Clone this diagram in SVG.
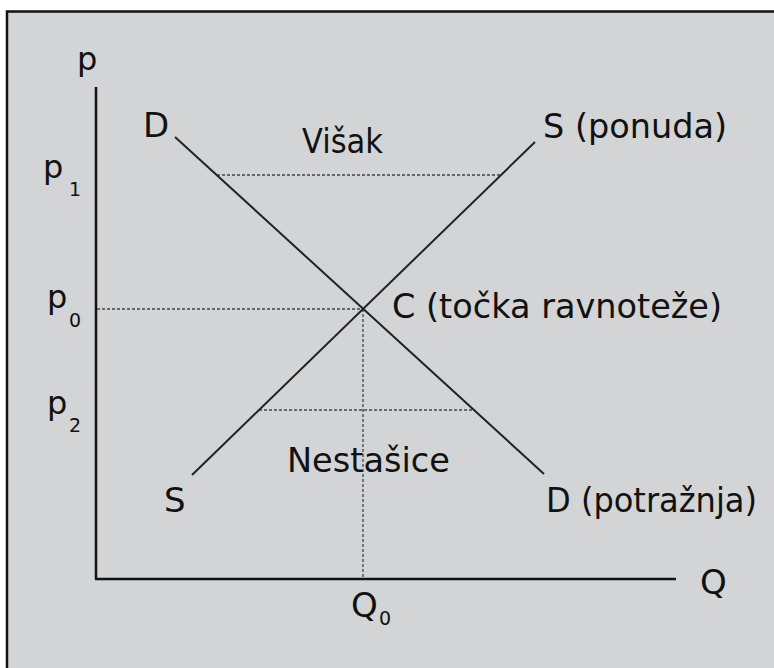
<svg xmlns="http://www.w3.org/2000/svg" width="774" height="668" viewBox="0 0 774 668">
  <style>
    .t { font-family: "DejaVu Sans", "Liberation Sans", sans-serif; fill: #111; font-size: 34px; }
    .p { font-size: 32px; }
    .sub { font-size: 19px; }
    .axis { stroke: #111; stroke-width: 2.5; fill: none; }
    .curve { stroke: #222; stroke-width: 2; fill: none; }
    .dot { stroke: #444; stroke-width: 1.3; stroke-dasharray: 3 2; fill: none; }
  </style>
  <rect x="0" y="0" width="774" height="668" fill="#ffffff"/>
  <rect id="frame" x="7" y="11.5" width="780" height="680" fill="#d3d4d6" stroke="#111" stroke-width="2.5"/>

  <g id="axes">
    <line class="axis" x1="96" y1="87" x2="96" y2="579"/>
    <line class="axis" x1="95" y1="579" x2="676" y2="579"/>
  </g>

  <g id="guides">
    <line class="dot" x1="217" y1="175" x2="501" y2="175"/>
    <line class="dot" x1="97" y1="309" x2="363" y2="309"/>
    <line class="dot" x1="363" y1="309" x2="363" y2="578"/>
    <line class="dot" x1="259" y1="410" x2="473" y2="410"/>
  </g>

  <g id="curves">
    <line id="demand" class="curve" x1="175" y1="137" x2="544" y2="474"/>
    <line id="supply" class="curve" x1="192" y1="475" x2="535" y2="142"/>
  </g>

  <g id="labels">
    <text class="t p" x="77" y="70">p</text>
    <text class="t" x="143" y="137">D</text>
    <text class="t" x="302" y="153" textLength="81" lengthAdjust="spacingAndGlyphs">Višak</text>
    <text class="t" x="543" y="138" textLength="184" lengthAdjust="spacingAndGlyphs">S (ponuda)</text>
    <text class="t p" x="43" y="178">p</text>
    <text class="t sub" x="69" y="196">1</text>
    <text class="t p" x="47" y="308">p</text>
    <text class="t sub" x="69" y="327">0</text>
    <text class="t p" x="47" y="414">p</text>
    <text class="t sub" x="69" y="432">2</text>
    <text class="t" x="392" y="318" textLength="330" lengthAdjust="spacingAndGlyphs">C (točka ravnoteže)</text>
    <text class="t" x="164" y="512">S</text>
    <text class="t" x="287" y="472" textLength="163" lengthAdjust="spacingAndGlyphs">Nestašice</text>
    <text class="t" x="546" y="512" textLength="211" lengthAdjust="spacingAndGlyphs">D (potražnja)</text>
    <text class="t" x="700" y="594">Q</text>
    <text class="t" x="351" y="617">Q</text>
    <text class="t sub" x="379" y="625">0</text>
  </g>
</svg>
